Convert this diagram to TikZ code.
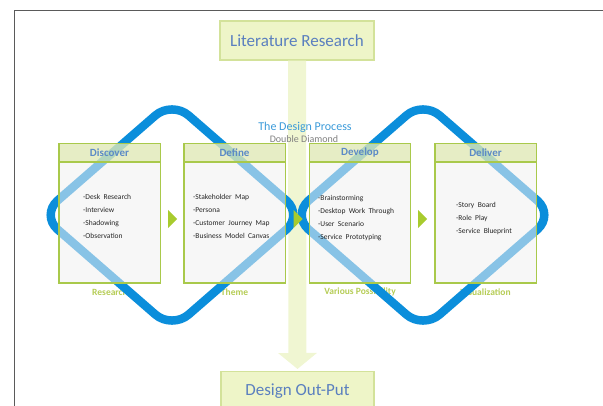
\documentclass[tikz,border=0pt]{standalone}
\usepackage{fontspec}
\setmainfont{Carlito}
\usetikzlibrary{arrows.meta}
\definecolor{dblue}{HTML}{0B8EDB}
\definecolor{boxgreen}{HTML}{A9C94B}
\definecolor{hdrfill}{RGB}{217,231,157}
\definecolor{bodyfill}{RGB}{240,240,240}
\definecolor{hdrtext}{HTML}{5B8AC6}
\definecolor{lblgreen}{HTML}{B5CC55}
\definecolor{trigreen}{HTML}{A8CB2E}
\definecolor{palefill}{HTML}{EEF5C8}
\definecolor{barfill}{HTML}{F0F6D2}
\definecolor{paleedge}{HTML}{D3E29A}
\definecolor{bigtext}{HTML}{5A7FBF}
\definecolor{titleblue}{HTML}{3A9AD9}
\definecolor{frame}{HTML}{5A5A5A}
\newcommand\mywidesp{\spaceskip=0.45em plus 0.1em\relax}
\tikzset{
  bigbox/.style={draw=paleedge, line width=1.2pt, fill=palefill, text=bigtext,
    font=\fontsize{17}{20}\selectfont, inner sep=0pt, minimum height=39pt},
  stagebody/.style={fill=bodyfill, fill opacity=0.55, minimum width=101pt,
    minimum height=139pt, inner sep=0pt},
  stagehdr/.style={fill=hdrfill, fill opacity=0.55, text opacity=1, minimum width=101pt,
    minimum height=18pt, inner sep=0pt, anchor=north, text=hdrtext,
    font=\bfseries\fontsize{11}{13}\selectfont},
  stageedge/.style={draw=boxgreen, line width=1.4pt},
  listtxt/.style={align=left, anchor=north west, inner sep=0pt, text=black!85,
    font=\fontsize{7.5}{13}\selectfont\mywidesp},
  lbl/.style={text=lblgreen, font=\bfseries\fontsize{9.5}{11}\selectfont, inner sep=0pt},
  diamondline/.style={draw=dblue, line width=8.5pt, rounded corners=22pt},
  tri/.style={fill=trigreen},
  bararrow/.style={draw=barfill, line width=18pt, -{Triangle[width=38pt,length=16pt]}}
}
\begin{document}
\begin{tikzpicture}[x=1pt,y=-1pt]
\useasboundingbox (0,0) rectangle (603,406);
% frame
\draw[frame, line width=0.9pt] (14,406) -- (14,10) -- (603,10);
% big boxes and the bar arrow
\node[bigbox, minimum width=154pt] (lit) at (297,40.5) {Literature Research};
\node[bigbox, minimum width=153pt, anchor=north] (out) at (297.5,371) {Design Out-Put};
\draw[bararrow, shorten >=2pt] (lit.south) -- (out.north);
% labels under the stages
\node[lbl] (lres) at (110,292) {Research};
\node[lbl] (lthe) at (234.5,292) {Theme};
\node[lbl] (lvar) at (360,292) {Various Possibility};
\node[lbl] (lvis) at (485.5,292) {Visualization};
% double diamond
\draw[diamondline] (106.5,158) -- (172,101) -- (303,215) -- (172,329) -- (41,215) -- cycle;
\draw[diamondline] (357.5,158) -- (423,101) -- (554,215) -- (423,329) -- (292,215) -- cycle;
% title
\node[text=titleblue, font=\fontsize{12}{14}\selectfont, inner sep=0pt] (ttl) at (305,127) {The Design Process};
\node[text=gray, font=\fontsize{10}{12}\selectfont, inner sep=0pt] (sub) at (304,139.5) {Double Diamond};
% stages
\foreach \nm/\cx/\ti in {disc/109.5/Discover, defi/234.5/Define, deve/360/Develop, deli/485.5/Deliver}{
  \node[stagebody] (\nm) at (\cx,213.5) {};
  \node[stagehdr] (\nm h) at (\nm.north) {\ti};
  \draw[stageedge] (\nm h.south west) -- (\nm h.south east);
  \draw[stageedge] (\nm.north west) rectangle (\nm.south east);
}
% lists
\node[listtxt] (l1) at (83,194) {-Desk Research\\-Interview\\-Shadowing\\-Observation};
\node[listtxt] (l2) at (193,194) {-Stakeholder Map\\-Persona\\-Customer Journey Map\\-Business Model Canvas};
\node[listtxt] (l3) at (318,195) {-Brainstorming\\-Desktop Work Through\\-User Scenario\\-Service Prototyping};
\node[listtxt] (l4) at (456,202) {-Story Board\\-Role Play\\-Service Blueprint};
% arrows between stages
\fill[tri] (168,210) -- (177,219) -- (168,228) -- cycle;
\fill[tri] (293.5,210) -- (302.5,219) -- (293.5,228) -- cycle;
\fill[tri] (418,210) -- (427,219) -- (418,228) -- cycle;
\end{tikzpicture}
\end{document}
